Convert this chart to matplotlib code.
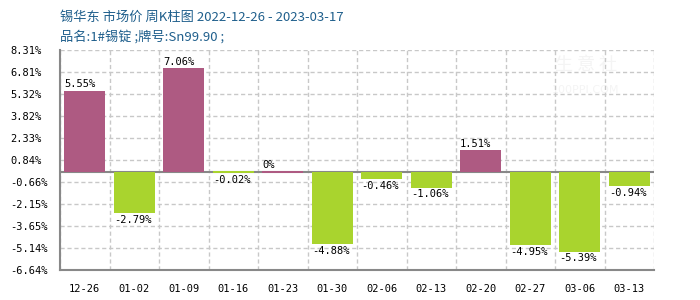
import numpy as np
import matplotlib
matplotlib.use("Agg")
import matplotlib.pyplot as plt

# data
weeks = ["12-26", "01-02", "01-09", "01-16", "01-23", "01-30",
         "02-06", "02-13", "02-20", "02-27", "03-06", "03-13"]
changes = [5.55, -2.79, 7.06, -0.02, 0.0, -4.88,
           -0.46, -1.06, 1.51, -4.95, -5.39, -0.94]
yticks = [8.31, 6.81, 5.32, 3.82, 2.33, 0.84, -0.66, -2.15, -3.65, -5.14, -6.64]

title1 = "锡华东 市场价 周K柱图 2022-12-26 - 2023-03-17"
title2 = "品名:1#锡锭 ;牌号:Sn99.90 ;"

up_col = "#ae5a82"
down_col = "#a9d42e"
txt_col = "#1f5f8c"
cjk = ["Noto Sans CJK SC", "DejaVu Sans"]
mono = "DejaVu Sans Mono"

fig = plt.figure(figsize=(7, 3), dpi=100)
ax = fig.add_axes([60/700, 30/300, 594/700, 220/300])

x = np.arange(len(weeks))
cols = [up_col if v >= 0 else down_col for v in changes]
# tiny values still show as a thin line on the zero axis, like the original
heights = [v if abs(v) > 0.1 else 0.14 for v in changes]
bottoms = [0 if abs(v) > 0.1 else -0.07 for v in changes]
w = 0.83
ax.bar(x, heights, width=w, bottom=bottoms, color=cols, zorder=3)

for xi, v, h in zip(x, changes, heights):
    lab = ("%g%%" % v) if v == 0 else ("%.2f%%" % v)
    if v >= 0:
        ax.text(xi - w/2, max(v, 0.07) + 0.1, lab, ha="left", va="bottom",
                fontsize=7.5, family=mono, zorder=4)
    else:
        ax.text(xi - w/2, min(v, -0.07) - 0.1, lab, ha="left", va="top",
                fontsize=7.5, family=mono, zorder=4)

ax.set_xlim(-0.5, len(weeks) - 0.5)
ax.set_ylim(yticks[-1], yticks[0])
ax.set_yticks(yticks)
ax.set_yticklabels(["%.2f%%" % t for t in yticks], family=mono, fontsize=7.5)
ax.set_xticks(x)
ax.set_xticklabels(weeks, family=mono, fontsize=7.5)
for lbl in ax.get_yticklabels():
    lbl.set_horizontalalignment("left")
ax.tick_params(axis="y", length=0, pad=36)
ax.tick_params(axis="x", length=0, pad=10)

# dashed grid: horizontal at ticks, vertical at category boundaries
for t in yticks:
    ax.axhline(t, color="#c8c8c8", ls=(0, (3, 2)), lw=1, zorder=1)
for b in np.arange(len(weeks) + 1) - 0.5:
    ax.axvline(b, color="#c8c8c8", ls=(0, (3, 2)), lw=1, zorder=1)
ax.axhline(0, color="#888888", lw=1.5, zorder=2)

for s in ["top", "right"]:
    ax.spines[s].set_visible(False)
for s in ["left", "bottom"]:
    ax.spines[s].set_color("#888888")
    ax.spines[s].set_linewidth(1.5)
    ax.spines[s].set_zorder(5)

# faint watermark
ax.text(0.885, 0.93, "生 意 社", transform=ax.transAxes, ha="center", va="center",
        fontsize=13, color="#f4f4f4", family=cjk, zorder=0)
ax.text(0.885, 0.82, "100PPI.COM", transform=ax.transAxes, ha="center", va="center",
        fontsize=8, color="#f4f4f4", zorder=0)

fig.text(60/700, 1 - 17/300, title1, color=txt_col, fontsize=9.5, family=cjk,
         ha="left", va="center")
fig.text(60/700, 1 - 37/300, title2, color=txt_col, fontsize=9.5, family=cjk,
         ha="left", va="center")

fig.savefig("out.png", dpi=100)
